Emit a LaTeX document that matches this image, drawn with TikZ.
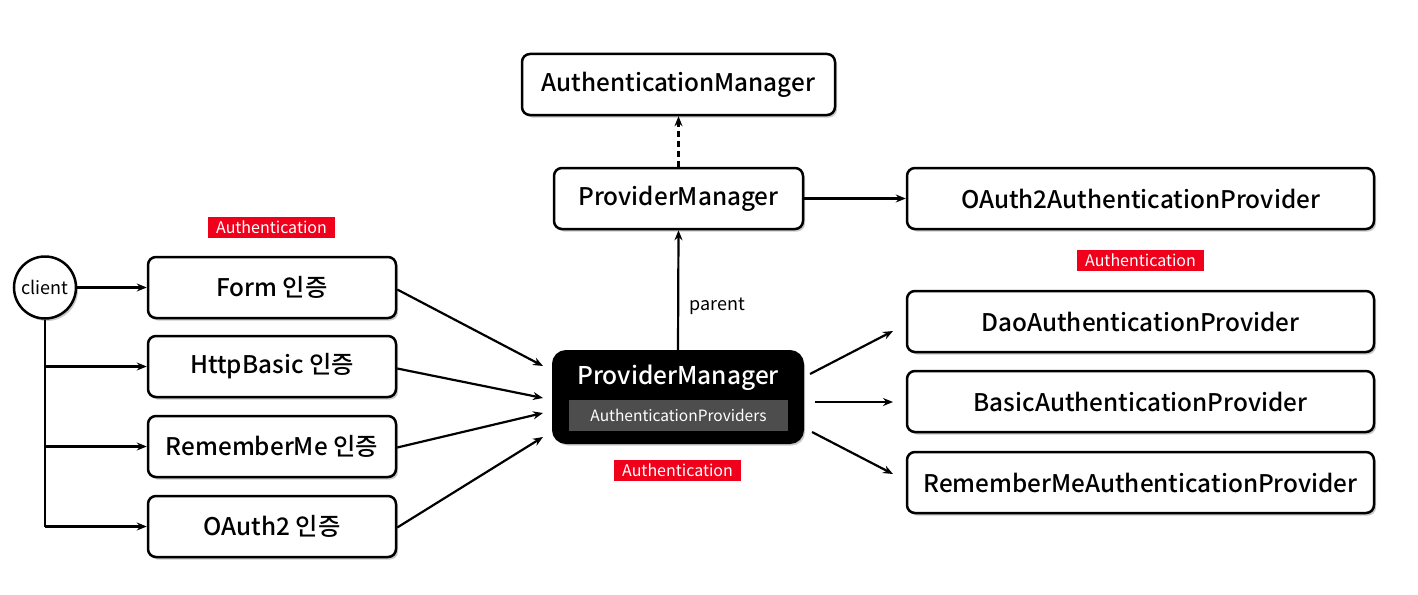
\documentclass[tikz,border=0pt]{standalone}
\usepackage{fontspec}
\setmainfont{Noto Sans CJK KR}
\newfontfamily\medfont{Noto Sans CJK KR Medium}
\usetikzlibrary{arrows.meta,shadows,calc}
\definecolor{authred}{RGB}{240,0,26}
\definecolor{provgray}{RGB}{77,77,77}
\begin{document}
\begin{tikzpicture}[x=1pt,y=1pt,
  shad/.style={drop shadow={shadow xshift=2pt,shadow yshift=-2.5pt,opacity=.35,fill=black!60}},
  box/.style={draw, line width=2.5pt, rounded corners=8pt, fill=white, minimum height=61pt,
    inner sep=0pt, font=\medfont\fontsize{24.3}{28}\selectfont, shad},
  redlbl/.style={fill=authred, text=white, minimum width=127pt, minimum height=21pt, inner sep=0pt,
    font=\fontsize{16}{18}\selectfont},
  conn/.style={line width=2.2pt, -{Stealth[length=10pt,width=8pt]}},
]
\useasboundingbox (0,0) rectangle (1418,-594);

% top column
\node[box, minimum width=313pt] (am) at (678.5,-84.5) {AuthenticationManager};
\node[box, minimum width=249pt] (pmtop) at (678.5,-198.5) {ProviderManager};
\node[box, minimum width=467pt] (oauthprov) at (1140.5,-198.5) {OAuth2AuthenticationProvider};

% main black box
\node[draw=black, fill=black, line width=2pt, rounded corners=13pt, minimum width=250pt, minimum height=92pt, inner sep=0pt, shad] (pm) at (678,-397) {};
\node[text=white, font=\medfont\fontsize{24.5}{28}\selectfont, inner sep=0pt] (pmtxt) at (678,-378) {ProviderManager};
\node[fill=provgray, text=white, minimum width=219pt, minimum height=31pt, inner sep=0pt, font=\fontsize{15.5}{17}\selectfont] (aps) at (678.5,-415.5) {AuthenticationProviders};

% client
\node[draw, circle, line width=2.5pt, fill=white, minimum size=62pt, inner sep=0pt, font=\fontsize{18}{20}\selectfont, shad] (client) at (45,-287.5) {client};

% left boxes
\node[box, minimum width=248pt] (form) at (272,-287.5) {Form 인증};
\node[box, minimum width=248pt] (basic) at (272,-366.5) {HttpBasic 인증};
\node[box, minimum width=248pt] (remember) at (272,-446.5) {RememberMe 인증};
\node[box, minimum width=248pt] (oauth) at (272,-526.5) {OAuth2 인증};

% right boxes
\node[box, minimum width=467pt] (dao) at (1140.5,-321.5) {DaoAuthenticationProvider};
\node[box, minimum width=467pt] (basicprov) at (1140.5,-401.5) {BasicAuthenticationProvider};
\node[box, minimum width=467pt] (rmprov) at (1140.5,-482.5) {RememberMeAuthenticationProvider};

% red labels
\node[redlbl] (lbl1) at (271.5,-227.5) {Authentication};
\node[redlbl] (lbl2) at (1140.5,-260.5) {Authentication};
\node[redlbl] (lbl3) at (677.5,-470) {Authentication};

% connectors: client
\draw[conn] (client.east) -- (form.west);
\coordinate (trunkend) at (45,-526.5);
\draw[line width=2.2pt] (client.south) -- (trunkend);
\draw[conn] (client.south |- basic.west) -- (basic.west);
\draw[conn] (client.south |- remember.west) -- (remember.west);
\draw[conn] (trunkend) -- (oauth.west);

% left boxes to main
\coordinate (in1) at (543,-366);
\coordinate (in2) at (543,-398);
\coordinate (in3) at (543,-413);
\coordinate (in4) at (543,-437);
\draw[conn] ($(form.east)+(0,-2)$) -- (in1);
\draw[conn] ($(basic.east)+(0,-2)$) -- (in2);
\draw[conn] ($(remember.east)+(0,-1)$) -- (in3);
\draw[conn] ($(oauth.east)+(0,-1)$) -- (in4);

% main to right boxes
\coordinate (out1) at (810,-374);
\coordinate (out2) at (815,-402);
\coordinate (out3) at (812,-432);
\coordinate (e1) at (893,-331);
\coordinate (e2) at (893,-402);
\coordinate (e3) at (893,-474);
\draw[conn] (out1) -- (e1);
\draw[conn] (out2) -- (e2);
\draw[conn] (out3) -- (e3);

% vertical
\draw[conn] (pm.north) -- (pmtop.south);
\node[font=\fontsize{18}{20}\selectfont, inner sep=0pt] (parentlbl) at (717,-306) {parent};
\draw[line width=2.2pt, dashed, dash pattern=on 6pt off 4pt, -{Stealth[length=10pt,width=8pt]}] (pmtop.north) -- (am.south);
\draw[conn] (pmtop.east) -- (oauthprov.west);
\end{tikzpicture}
\end{document}
